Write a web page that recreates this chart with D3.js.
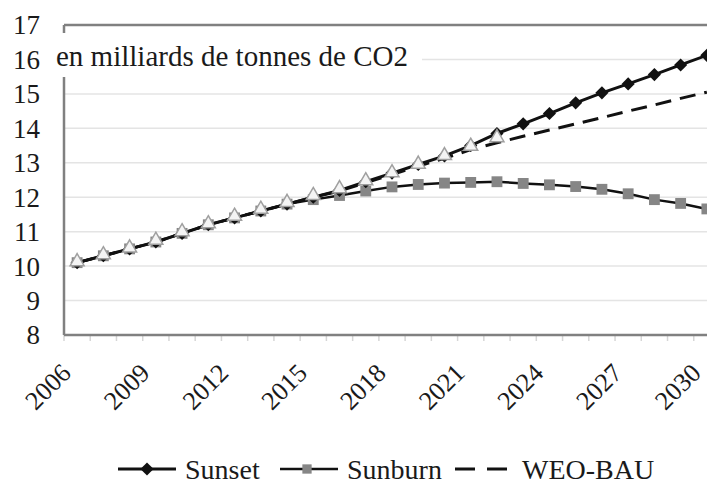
<!DOCTYPE html>
<html>
<head>
<meta charset="utf-8">
<script src="https://cdn.jsdelivr.net/npm/d3@7"></script>
<style>
  body { margin: 0; background: #fff; }
</style>
</head>
<body>
<div id="chart"></div>
<script>
var annees = d3.range(2006, 2031)
var sunset = [10.1, 10.3, 10.5, 10.7, 10.95, 11.2, 11.4, 11.6, 11.8, 12.0, 12.2, 12.45, 12.7, 12.95, 13.2, 13.5, 13.85, 14.13, 14.43, 14.74, 15.03, 15.29, 15.56, 15.84, 16.12]
var sunburn = [10.1, 10.3, 10.5, 10.7, 10.95, 11.2, 11.4, 11.6, 11.8, 11.93, 12.05, 12.18, 12.3, 12.37, 12.41, 12.43, 12.45, 12.4, 12.36, 12.31, 12.23, 12.1, 11.93, 11.82, 11.66]
var weoBau = [10.1, 10.3, 10.5, 10.7, 10.95, 11.2, 11.4, 11.6, 11.8, 12.0, 12.18, 12.42, 12.66, 12.9, 13.13, 13.38, 13.58, 13.77, 13.95, 14.13, 14.31, 14.5, 14.68, 14.87, 15.05]
// serie commune (triangles), sans entree de legende
var commun = [10.1, 10.3, 10.5, 10.72, 10.97, 11.2, 11.42, 11.62, 11.82, 12.02, 12.22, 12.45, 12.68, 12.93, 13.18, 13.45, 13.7]
var ticksX = [2006, 2009, 2012, 2015, 2018, 2021, 2024, 2027, 2030]
var ticksY = d3.range(8, 18)
var titre = "en milliards de tonnes de CO2"
var legende = ["Sunset", "Sunburn", "WEO-BAU"]

var width = 707, height = 495
var mG = 64, mD = 720, mH = 25, mB = 335
var police = "'Liberation Serif', 'DejaVu Serif', serif"

var svg = d3.select("#chart").append("svg")
    .attr("width", width)
    .attr("height", height)
    .attr("font-family", police)

var x = d3.scalePoint()
    .domain(annees)
    .range([mG, mD])
    .padding(0.5)

var y = d3.scaleLinear()
    .domain([8, 17])
    .range([mB, mH])

// grille horizontale
svg.append("g")
    .selectAll("line")
    .data(ticksY.slice(1, -1))
    .enter().append("line")
    .attr("x1", mG).attr("x2", width)
    .attr("y1", function (d) { return y(d) })
    .attr("y2", function (d) { return y(d) })
    .attr("stroke", "#e4e4e4")
    .attr("stroke-width", 1.5)

// petites graduations en bas
var pas = x.step()
svg.append("g")
    .selectAll("line")
    .data(d3.range(annees.length + 1))
    .enter().append("line")
    .attr("x1", function (i) { return mG + i * pas })
    .attr("x2", function (i) { return mG + i * pas })
    .attr("y1", mB).attr("y2", mB + 6)
    .attr("stroke", "#d6d6d6")
    .attr("stroke-width", 1.5)

// axes
svg.append("line")
    .attr("x1", mG).attr("x2", mG)
    .attr("y1", mH).attr("y2", mB)
    .attr("stroke", "#808080").attr("stroke-width", 2.5)
svg.append("line")
    .attr("x1", mG).attr("x2", width)
    .attr("y1", mB).attr("y2", mB)
    .attr("stroke", "#808080").attr("stroke-width", 2.5)
svg.append("line")
    .attr("x1", mG).attr("x2", width)
    .attr("y1", mH).attr("y2", mH)
    .attr("stroke", "#808080").attr("stroke-width", 2.5)

svg.append("g")
    .selectAll("text")
    .data(ticksY)
    .enter().append("text")
    .attr("x", 40)
    .attr("y", function (d) { return y(d) })
    .attr("dy", "0.35em")
    .attr("text-anchor", "end")
    .attr("fill", "#1a1a1a")
    .style("font-size", "27px")
    .text(function (d) { return d })

svg.append("g")
    .selectAll("text")
    .data(ticksX)
    .enter().append("text")
    .attr("transform", function (d) { return "translate(" + (x(d) - 11) + "," + (mB + 33) + ") rotate(-45)" })
    .attr("text-anchor", "end")
    .attr("dy", "0.35em")
    .attr("fill", "#1a1a1a")
    .style("font-size", "26px")
    .text(function (d) { return d })

// titre avec fond blanc
svg.append("rect")
    .attr("x", 52).attr("y", 33)
    .attr("width", 370).attr("height", 44)
    .attr("fill", "#fff")
svg.append("text")
    .attr("x", 56).attr("y", 66)
    .attr("fill", "#1a1a1a")
    .style("font-size", "29px")
    .text(titre)

function ligne(valeurs) {
    return d3.line()
        .x(function (d, i) { return x(annees[i]) })
        .y(function (d) { return y(d) })(valeurs)
}

svg.append("path")
    .attr("d", ligne(sunset))
    .attr("fill", "none").attr("stroke", "#111").attr("stroke-width", 3)
svg.append("path")
    .attr("d", ligne(sunburn))
    .attr("fill", "none").attr("stroke", "#111").attr("stroke-width", 2.5)
svg.append("path")
    .attr("d", ligne(weoBau))
    .attr("fill", "none").attr("stroke", "#111").attr("stroke-width", 3)
    .attr("stroke-dasharray", "16,9")

var diamant = d3.symbol().type(d3.symbolDiamond2).size(110)
var carre = d3.symbol().type(d3.symbolSquare2).size(150)
var triangle = d3.symbol().type(d3.symbolTriangle2).size(140)

svg.append("g")
    .selectAll("path")
    .data(sunburn)
    .enter().append("path")
    .attr("transform", function (d, i) { return "translate(" + x(annees[i]) + "," + y(d) + ")" })
    .attr("d", carre)
    .attr("fill", "#868686")

svg.append("g")
    .selectAll("path")
    .data(sunset)
    .enter().append("path")
    .attr("transform", function (d, i) { return "translate(" + x(annees[i]) + "," + y(d) + ")" })
    .attr("d", diamant)
    .attr("fill", "#111")

svg.append("g")
    .selectAll("path")
    .data(commun)
    .enter().append("path")
    .attr("transform", function (d, i) { return "translate(" + x(annees[i]) + "," + (y(d) - 1) + ")" })
    .attr("d", triangle)
    .attr("fill", "#f4f4f4")
    .attr("stroke", "#a0a0a0")
    .attr("stroke-width", 1.5)

// legende
var ly = 469
var leg = svg.append("g")
var lx = [118, 280, 455]
leg.selectAll("line")
    .data(legende)
    .enter().append("line")
    .attr("x1", function (d, i) { return lx[i] })
    .attr("x2", function (d, i) { return lx[i] + 58 })
    .attr("y1", ly).attr("y2", ly)
    .attr("stroke", "#111")
    .attr("stroke-width", function (d, i) { return i == 1 ? 2.5 : 3 })
    .attr("stroke-dasharray", function (d, i) { return i == 2 ? "20,12" : null })
leg.append("path")
    .attr("transform", "translate(" + (lx[0] + 29) + "," + ly + ")")
    .attr("d", diamant).attr("fill", "#111")
leg.append("path")
    .attr("transform", "translate(" + (lx[1] + 27) + "," + ly + ")")
    .attr("d", d3.symbol().type(d3.symbolSquare2).size(110)).attr("fill", "#868686")
leg.selectAll("text")
    .data(legende)
    .enter().append("text")
    .attr("x", function (d, i) { return lx[i] + 67 })
    .attr("y", ly)
    .attr("dy", "0.35em")
    .attr("fill", "#1a1a1a")
    .style("font-size", "28px")
    .text(function (d) { return d })
</script>
</body>
</html>
